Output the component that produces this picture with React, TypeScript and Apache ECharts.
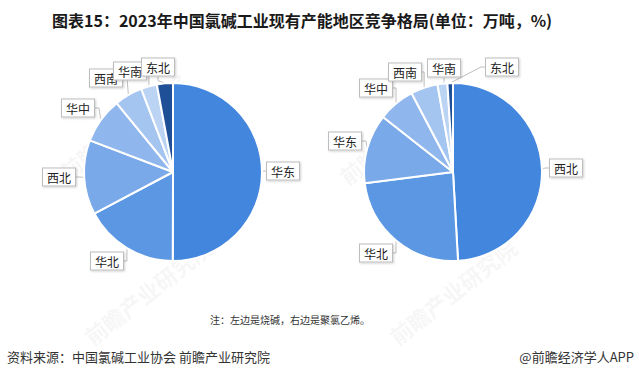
import React, { useEffect, useRef } from "react";
import * as echarts from "echarts";

const leftRegions = ["华东", "华北", "西北", "华中", "西南", "华南", "东北"];
const leftValues = [50.0, 17.2, 13.5, 8.3, 5.1, 2.9, 2.9];

const rightRegions = ["西北", "华北", "华东", "华中", "西南", "华南", "东北"];
const rightValues = [49.1, 23.9, 12.6, 6.7, 4.9, 1.8, 1.0];

const sliceColors = ["#4286de", "#5c97e3", "#79a9e9", "#8fb7ed", "#a5c5f1", "#bcd4f4", "#1f4f96"];

const titleText = "图表15：2023年中国氯碱工业现有产能地区竞争格局(单位：万吨，%)";
const noteText = "注：左边是烧碱，右边是聚氯乙烯。";
const sourceText = "资料来源：中国氯碱工业协会 前瞻产业研究院";
const brandText = "@前瞻经济学人APP";
const watermarkText = "前瞻产业研究院";

// label box centres (layout only)
const leftLabelPos = [
  [283, 171],
  [107, 261],
  [59, 177],
  [78, 108],
  [106, 78],
  [130, 71],
  [158, 67],
];
const rightLabelPos = [
  [566, 168],
  [376, 253],
  [345, 141],
  [376, 88],
  [405, 72],
  [444, 68],
  [502, 67],
];

const FONT = '"Noto Sans CJK SC", "Noto Sans", sans-serif';

function makePie(names: string[], values: number[], center: number[], labelPos: number[][]) {
  return {
    type: "pie",
    center,
    radius: [0, 89],
    startAngle: 90,
    clockwise: true,
    silent: true,
    data: names.map((n, i) => ({
      name: n,
      value: values[i],
      itemStyle: { color: sliceColors[i] },
    })),
    itemStyle: { borderColor: "#ffffff", borderWidth: 2 },
    label: {
      show: true,
      position: "outside",
      formatter: "{b}",
      fontFamily: FONT,
      fontSize: 12,
      color: "#222",
      backgroundColor: "#ffffff",
      borderColor: "#bdbdbd",
      borderWidth: 1,
      padding: [3, 4, 2, 4],
      shadowColor: "rgba(0,0,0,0.18)",
      shadowBlur: 2,
      shadowOffsetX: 1,
      shadowOffsetY: 1,
    },
    labelLine: {
      show: true,
      length: 4,
      length2: 4,
      lineStyle: { color: "#bfbfbf", width: 1 },
    },
    labelLayout: (params: any) => {
      const p = labelPos[params.dataIndex];
      return { x: p[0], y: p[1], align: "center", verticalAlign: "middle" };
    },
  };
}

function watermark(x: number, y: number, size: number) {
  return {
    type: "text",
    x,
    y,
    rotation: (38 * Math.PI) / 180,
    silent: true,
    z: 1,
    style: {
      text: watermarkText,
      fontSize: size,
      fontWeight: "bold",
      fontFamily: FONT,
      fill: "rgba(185,185,185,0.13)",
    },
  };
}

export default function App() {
  const ref = useRef<HTMLDivElement>(null);

  useEffect(() => {
    if (!ref.current) return;
    const chart = echarts.init(ref.current, undefined, { renderer: "svg" });
    chart.setOption({
      animation: false,
      backgroundColor: "#ffffff",
      series: [
        makePie(leftRegions, leftValues, [173, 172], leftLabelPos),
        makePie(rightRegions, rightValues, [453, 172], rightLabelPos),
      ],
      graphic: [
        watermark(55, 165, 22),
        watermark(335, 170, 22),
        watermark(80, 330, 22),
        watermark(385, 330, 22),
        {
          type: "text",
          left: 52,
          top: 12,
          silent: true,
          style: {
            text: titleText,
            fontSize: 16,
            fontWeight: "bold",
            fontFamily: FONT,
            fill: "#1a1a1a",
          },
        },
        {
          type: "text",
          x: 290,
          y: 319,
          silent: true,
          style: {
            text: noteText,
            fontSize: 10,
            fontFamily: FONT,
            fill: "#333",
            align: "center",
            verticalAlign: "middle",
          },
        },
        {
          type: "text",
          x: 7,
          y: 356,
          silent: true,
          style: {
            text: sourceText,
            fontSize: 13,
            fontFamily: FONT,
            fill: "#333",
            verticalAlign: "middle",
          },
        },
        {
          type: "text",
          x: 634,
          y: 356,
          silent: true,
          style: {
            text: brandText,
            fontSize: 13,
            fontFamily: FONT,
            fill: "#333",
            align: "right",
            verticalAlign: "middle",
          },
        },
      ],
    });
    return () => chart.dispose();
  }, []);

  return (
    <div
      ref={ref}
      style={{ position: "fixed", left: 0, top: 0, width: 639, height: 378, background: "#fff" }}
    />
  );
}
